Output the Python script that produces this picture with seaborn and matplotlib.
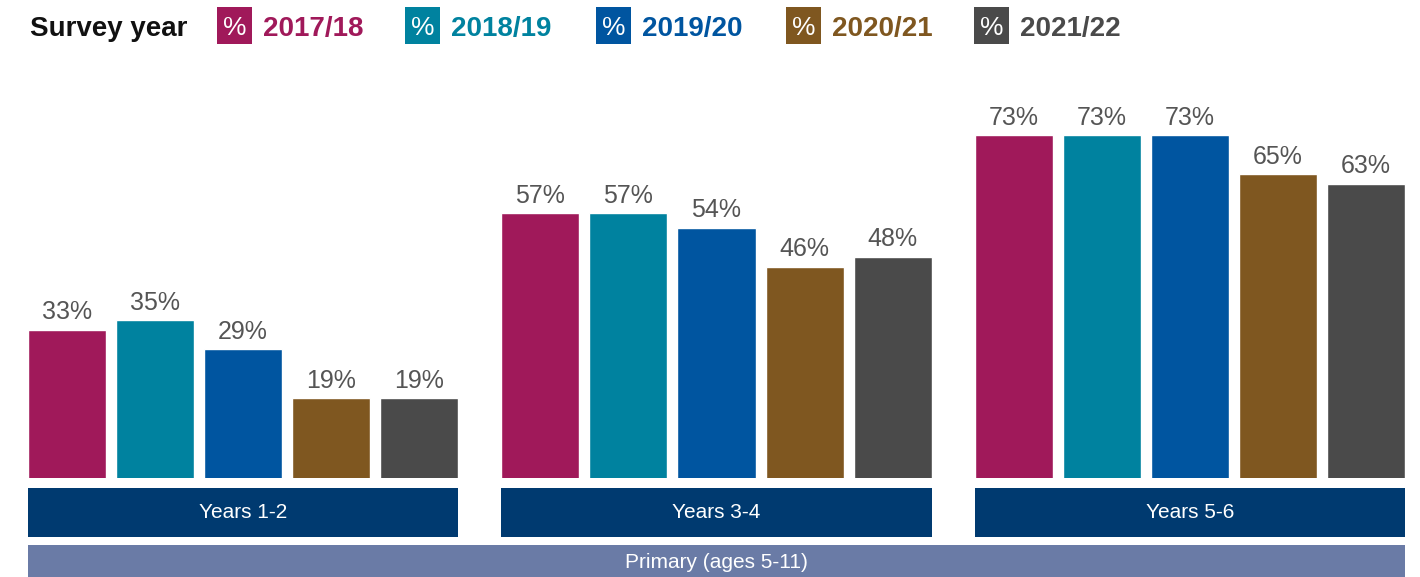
import matplotlib
matplotlib.use("Agg")
import matplotlib.pyplot as plt
from matplotlib.patches import Rectangle
import seaborn as sns
import pandas as pd

# ---- data ----
groups = ["Years 1-2", "Years 3-4", "Years 5-6"]
years = ["2017/18", "2018/19", "2019/20", "2020/21", "2021/22"]
v_2017_18 = [33, 57, 73]
v_2018_19 = [35, 57, 73]
v_2019_20 = [29, 54, 73]
v_2020_21 = [19, 46, 65]
v_2021_22 = [19, 48, 63]
super_group = "Primary (ages 5-11)"
legend_title = "Survey year"

series = [v_2017_18, v_2018_19, v_2019_20, v_2020_21, v_2021_22]
colors = ["#A0195A", "#00829F", "#0055A0", "#7F5720", "#4A4A4A"]
palette = dict(zip(years, colors))

rows = []
for yr, vals in zip(years, series):
    for g, v in zip(groups, vals):
        rows.append({"group": g, "year": yr, "value": v})
df = pd.DataFrame(rows)

sns.set_theme(style="white")
plt.rcParams["font.family"] = ["Liberation Sans", "DejaVu Sans"]

W, H = 1420, 577
fig = plt.figure(figsize=(W / 100, H / 100), dpi=100)
ax = fig.add_axes([0, (H - 478) / H, 1, 418 / H])

sns.barplot(data=df, x="group", y="value", hue="year", order=groups,
            hue_order=years, palette=palette, saturation=1, width=0.93,
            gap=0.114, legend=False, ax=ax)

ax.set_xlim(-243 / 473.5, (W - 243) / 473.5)
ax.set_ylim(2.6, 2.6 + 418 / 4.87)
ax.axis("off")

for cont, vals in zip(ax.containers, series):
    ax.bar_label(cont, labels=[f"{v}%" for v in vals], padding=4,
                 fontsize=18, color="#555555")

# category boxes below bars
tr = matplotlib.transforms.blended_transform_factory(ax.transData, fig.transFigure)
half = 0.4544
for i, g in enumerate(groups):
    ax.add_patch(Rectangle((i - half, (H - 537) / H), 2 * half, 49 / H,
                           transform=tr, facecolor="#003A70", edgecolor="none",
                           clip_on=False))
    ax.text(i, (H - 513) / H, g, transform=tr, ha="center", va="center",
            color="white", fontsize=15)

ax.add_patch(Rectangle((-half, (H - 580) / H), 2 + 2 * half, 35 / H,
                       transform=tr, facecolor="#6A7BA6", edgecolor="none",
                       clip_on=False))
ax.text(1, (H - 563) / H, super_group, transform=tr, ha="center", va="center",
        color="white", fontsize=15)

# legend at top
lb = (H - 36) / H
fig.text(30 / W, lb, legend_title, fontsize=20, fontweight="bold",
         color="#111111", ha="left", va="baseline")
sq_x = [217, 405, 596, 786, 974]
for x0, yr, c in zip(sq_x, years, colors):
    fig.patches.append(Rectangle((x0 / W, (H - 44) / H), 35 / W, 37 / H,
                                 transform=fig.transFigure, facecolor=c,
                                 edgecolor="none"))
    fig.text((x0 + 17.5) / W, (H - 35) / H, "%", fontsize=19, color="white",
             ha="center", va="baseline")
    fig.text((x0 + 46) / W, lb, yr, fontsize=20, color=c, ha="left",
             va="baseline", fontweight="bold")

fig.savefig("out.png", dpi=100)
